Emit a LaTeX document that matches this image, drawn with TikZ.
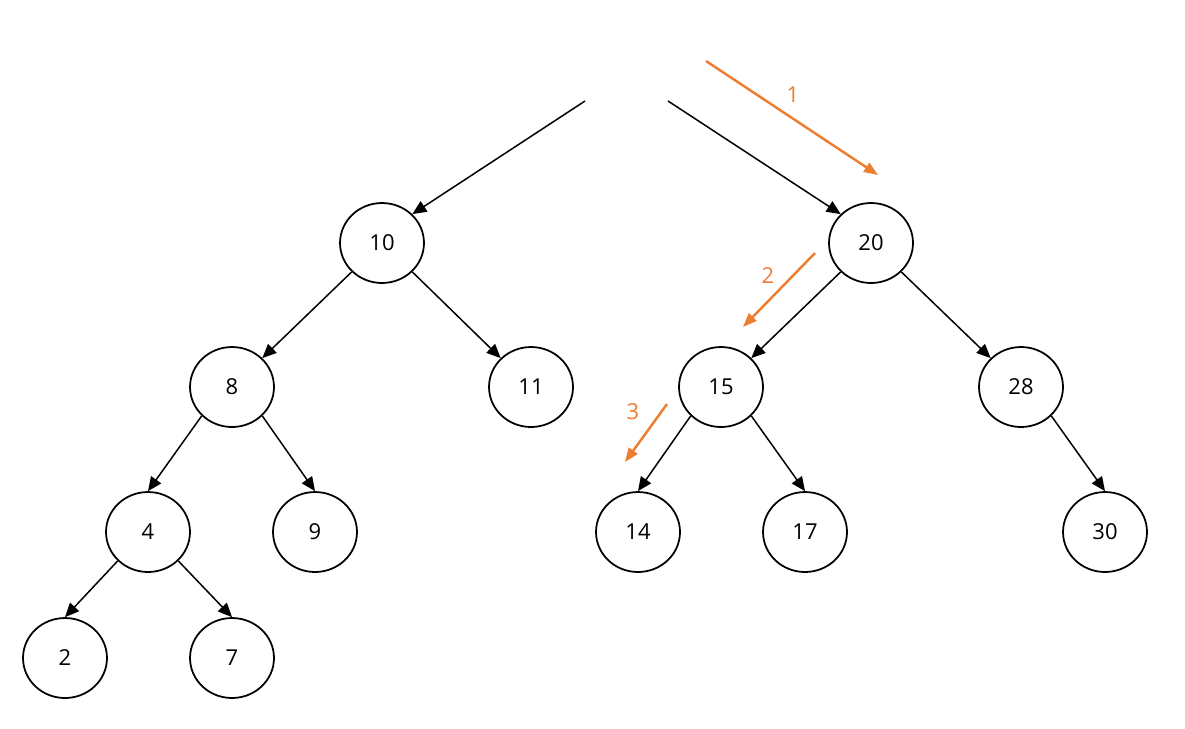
\documentclass[tikz,border=0pt]{standalone}
\usepackage{fontspec}
\setmainfont{Open Sans}
\usetikzlibrary{shapes.geometric,arrows.meta}
\definecolor{stepcol}{HTML}{ED7D31}
\begin{document}
\begin{tikzpicture}[x=0.02cm, y=-0.02cm, line width=0.85pt,
	main node/.style={ellipse,draw,line width=1pt,minimum width=1.68cm,minimum height=1.6cm,inner sep=0pt,font=\fontsize{12.5}{15}\selectfont},
	tree edge/.style={-{Triangle[length=8pt,width=7pt]}},
	step arrow/.style={stepcol,line width=1.4pt,-{Triangle[length=8pt,width=6pt]}},
	step label/.style={text=stepcol,font=\fontsize{12.5}{15}\selectfont}]
	
	  \useasboundingbox (0,0) rectangle (1185,728);
	
	  \node[main node] (n10) at (382,243) {10};
	  \node[main node] (n20) at (871,243) {20};
	  \node[main node] (n8) at (232,387) {8};
	  \node[main node] (n11) at (531,387) {11};
	  \node[main node] (n15) at (721,387) {15};
	  \node[main node] (n28) at (1021,387) {28};
	  \node[main node] (n4) at (148,532) {4};
	  \node[main node] (n9) at (315,532) {9};
	  \node[main node] (n14) at (638,532) {14};
	  \node[main node] (n17) at (805,532) {17};
	  \node[main node] (n30) at (1105,532) {30};
	  \node[main node] (n2) at (65,658) {2};
	  \node[main node] (n7) at (232,658) {7};
	  
	  \coordinate (rootL) at (585,101);
	  \coordinate (rootR) at (668,101);
	  
	  \path[tree edge]
	  (rootL) edge (n10.north east)
	  (rootR) edge (n20.north west)
	  (n10.south west) edge (n8.north east)
	  (n10.south east) edge (n11.north west)
	  (n20.south west) edge (n15.north east)
	  (n20.south east) edge (n28.north west)
	  (n8.south west) edge (n4.north)
	  (n8.south east) edge (n9.north)
	  (n15.south west) edge (n14.north)
	  (n15.south east) edge (n17.north)
	  (n28.south east) edge (n30.north)
	  (n4.south west) edge (n2.north)
	  (n4.south east) edge (n7.north);
	
	  % search path
	  \coordinate (s1a) at (706,61);
	  \coordinate (s1b) at (878,175);
	  \coordinate (s2a) at (815,253);
	  \coordinate (s2b) at (743,327);
	  \coordinate (s3a) at (667,404);
	  \coordinate (s3b) at (625,462);
	  \draw[step arrow] (s1a) -- (s1b);
	  \draw[step arrow] (s2a) -- (s2b);
	  \draw[step arrow] (s3a) -- (s3b);
	  \node[step label] (l1) at (793,95) {1};
	  \node[step label] (l2) at (768,276) {2};
	  \node[step label] (l3) at (633,412) {3};
	
	\end{tikzpicture}
\end{document}
